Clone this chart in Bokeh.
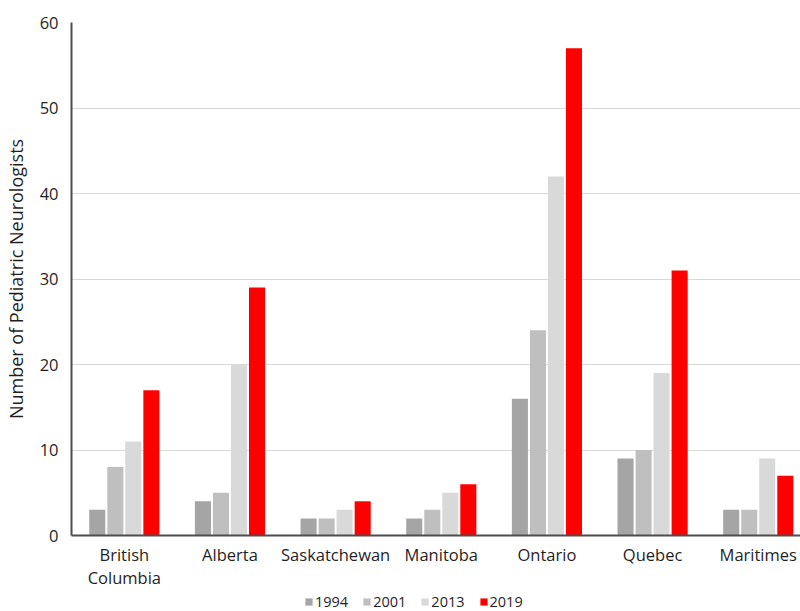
from bokeh.plotting import figure
from bokeh.layouts import column
from bokeh.models import ColumnDataSource, Range1d, FixedTicker, Legend, LegendItem
from bokeh.transform import dodge
from bokeh.embed import file_html
from bokeh.resources import INLINE

# Pediatric neurologists by province / region, per survey year
provinces = ["British\nColumbia", "Alberta", "Saskatchewan", "Manitoba",
             "Ontario", "Quebec", "Maritimes"]
years = ["1994", "2001", "2013", "2019"]
n1994 = [3, 4, 2, 2, 16, 9, 3]
n2001 = [8, 5, 2, 3, 24, 10, 3]
n2013 = [11, 20, 3, 5, 42, 19, 9]
n2019 = [17, 29, 4, 6, 57, 31, 7]
colors = ["#a5a5a5", "#bfbfbf", "#d9d9d9", "#ff0000"]
y_ticks = [0, 10, 20, 30, 40, 50, 60]

FONT = "Open Sans"
TEXT = "#1f1f1f"
BAR_W = 0.152
offsets = [-0.256, -0.085, 0.085, 0.256]

source = ColumnDataSource(dict(
    x=list(range(len(provinces))),
    y1994=n1994, y2001=n2001, y2013=n2013, y2019=n2019,
))

# ---- main bar chart ----
p = figure(width=800, height=591, output_backend="svg", toolbar_location=None,
           x_range=Range1d(-0.5, 6.4), y_range=Range1d(0, 60),
           min_border_left=70, min_border_right=0, min_border_top=22,
           min_border_bottom=50)
p.outline_line_color = None
p.background_fill_color = "white"
p.border_fill_color = "white"

for yr, col, off in zip(years, colors, offsets):
    p.vbar(x=dodge("x", off, range=p.x_range), top="y" + yr, width=BAR_W,
           source=source, fill_color=col, line_color=None)

p.xaxis.ticker = FixedTicker(ticks=list(range(len(provinces))))
p.xaxis.major_label_overrides = {i: name for i, name in enumerate(provinces)}
p.yaxis.ticker = FixedTicker(ticks=y_ticks)
for ax in (p.xaxis, p.yaxis):
    ax.major_tick_line_color = None
    ax.minor_tick_line_color = None
    ax.major_tick_out = 0
    ax.major_tick_in = 0
    ax.minor_tick_out = 0
    ax.axis_line_color = "#4d4d4d"
    ax.axis_line_width = 2
    ax.major_label_text_font = FONT
    ax.major_label_text_font_size = "16.5px"
    ax.major_label_text_color = TEXT
p.xaxis.major_label_standoff = 7
p.xaxis.major_label_text_line_height = 1.0
p.yaxis.major_label_standoff = 13
p.yaxis.axis_label = "Number of Pediatric Neurologists"
p.yaxis.axis_label_text_font = FONT
p.yaxis.axis_label_text_font_size = "18px"
p.yaxis.axis_label_text_font_style = "normal"
p.yaxis.axis_label_text_color = TEXT
p.yaxis.axis_label_standoff = 9

p.xgrid.grid_line_color = None
p.ygrid.grid_line_color = "#d9d9d9"
p.ygrid.grid_line_width = 1

# ---- legend strip under the chart (its frame lines up with the chart's) ----
lf = figure(width=800, height=20, output_backend="svg", toolbar_location=None,
            x_axis_type=None, y_axis_type=None, min_border=0,
            min_border_left=70, x_range=p.x_range, y_range=Range1d(100, 101))
lf.outline_line_color = None
lf.background_fill_color = "white"
lf.border_fill_color = "white"
items = []
for yr, col, off in zip(years, colors, offsets):
    r = lf.vbar(x=dodge("x", off, range=lf.x_range), top="y" + yr, width=BAR_W,
                source=source, fill_color=col, line_color=None)
    items.append(LegendItem(label=yr, renderers=[r]))
legend = Legend(items=items, orientation="horizontal", location=(233, 0),
                glyph_width=9, glyph_height=9, label_height=10, label_width=20,
                spacing=14, label_standoff=2,
                label_text_font=FONT, label_text_font_size="14.5px",
                label_text_color=TEXT, label_text_baseline="middle",
                border_line_color=None, background_fill_alpha=0,
                padding=0, margin=0)
lf.add_layout(legend, "center")

layout = column(p, lf, spacing=0)
open("out.html", "w").write(file_html(layout, INLINE))
